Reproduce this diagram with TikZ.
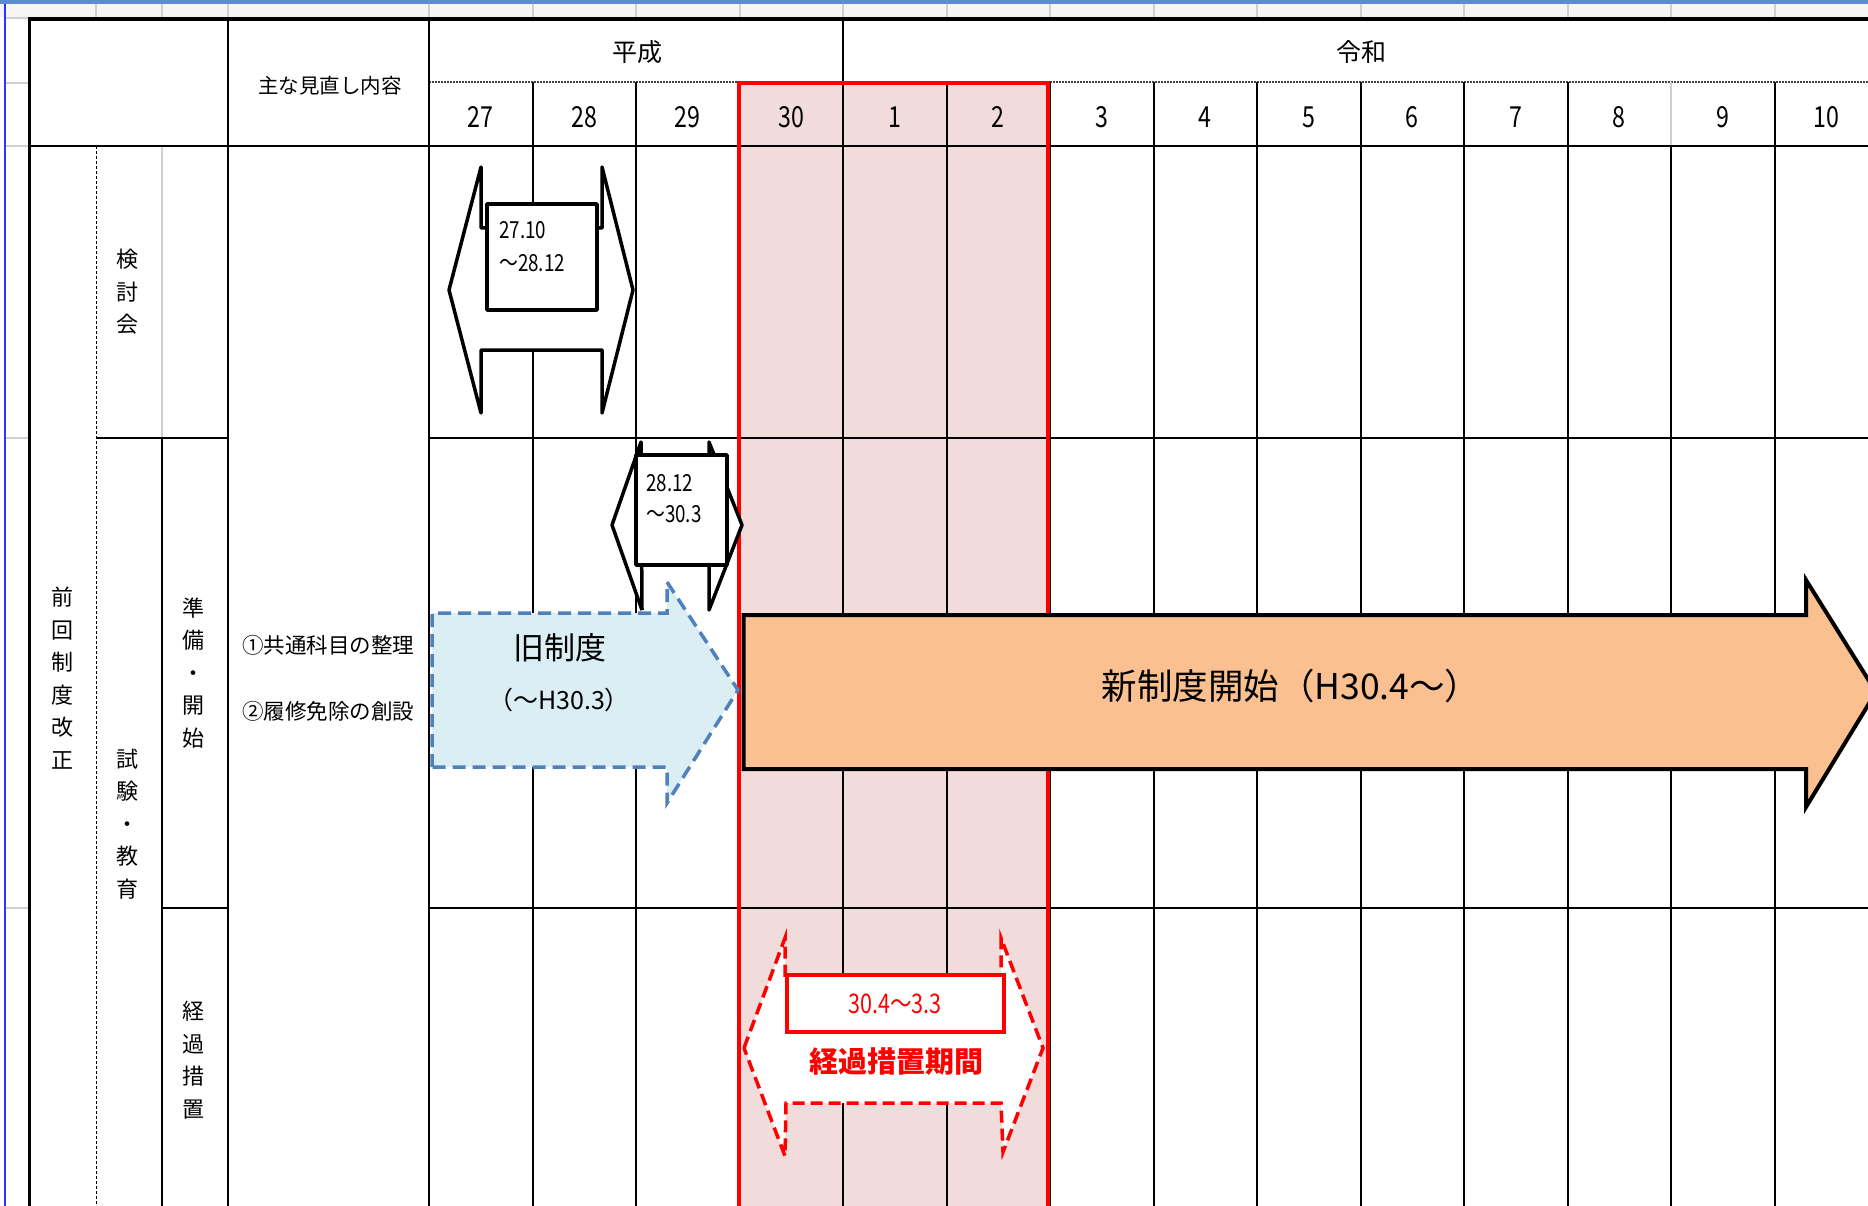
\documentclass[tikz,border=0pt]{standalone}
\usepackage{fontspec}
\setmainfont{Noto Sans CJK JP}
\usepackage{graphicx}
\definecolor{pinkbg}{HTML}{F2DCDB}
\definecolor{gridgray}{HTML}{D0D0D0}
\definecolor{topblue}{HTML}{5B8BD0}
\definecolor{oldfill}{HTML}{DAEEF3}
\definecolor{olddraw}{HTML}{4F81BD}
\definecolor{newfill}{HTML}{FAC090}
\definecolor{hired}{HTML}{FF0000}
\newcommand{\nr}[1]{\scalebox{0.8}[1]{#1}}
\tikzset{
  gline/.style={line width=2pt, black},
  grayline/.style={line width=2pt, gridgray},
  vtext/.style={align=center, inner sep=0pt, font=\fontsize{22}{32.6}\selectfont},
  lbl/.style={inner sep=0pt, font=\fontsize{21.5}{26}\selectfont},
  yrlbl/.style={inner sep=0pt, font=\fontsize{29}{32}\selectfont},
  boxtxt/.style={inner sep=0pt, anchor=west, font=\fontsize{23.5}{26}\selectfont},
  shapeline/.style={line width=3.5pt, line join=round},
}
\begin{document}
\begin{tikzpicture}[x=1pt,y=-1pt]
\useasboundingbox (0,0) rectangle (1868,1206);
\clip (0,0) rectangle (1868,1206);
\fill[white] (0,0) rectangle (1868,1206);
% spreadsheet surroundings
\fill[topblue] (0,0) rectangle (1868,4);
\fill[black!4] (0,4) rectangle (1868,17);
\foreach \gx in {96,162,228} {\draw[grayline] (\gx,4) -- (\gx,17);}
\foreach \k in {0,...,13} {\draw[grayline] ({429+103.5*\k},4) -- ({429+103.5*\k},17);}
\foreach \gy in {18,83,146,438,908} {\draw[grayline] (5,\gy) -- (28,\gy);}
\draw[line width=1.5pt, blue!80] (5,4) -- (5,1206);
% pink period
\fill[pinkbg] (739,83) rectangle (1048,1210);
% header grid
\draw[line width=1.5pt, black!75, dash pattern=on 1.5pt off 1.5pt] (429,82) -- (1868,82);
\draw[gline] (228,18) -- (228,1206);
\draw[gline] (429,18) -- (429,1206);
\draw[gline] (843,18) -- (843,1206);
\foreach \k in {1,2,3,5,6,7,8,9,10,11,13} {\draw[gline] ({429+103.5*\k},82) -- ({429+103.5*\k},1206);}
\draw[grayline] (1671,82) -- (1671,146);
\draw[gline] (1671,146) -- (1671,1206);
% body grid
\draw[line width=1pt, dash pattern=on 3pt off 2pt] (96,146) -- (96,1206);
\draw[grayline] (162,147) -- (162,437);
\draw[gline] (162,438) -- (162,1206);
\draw[line width=2.5pt] (30,146) -- (1868,146);
\draw[gline] (96,438) -- (228,438);
\draw[gline] (429,438) -- (1868,438);
\draw[gline] (162,908) -- (228,908);
\draw[gline] (429,908) -- (1868,908);
\draw[line width=4pt] (28,19) -- (1868,19);
\draw[line width=3pt] (29.5,17) -- (29.5,1206);
% red frame
\draw[hired, line width=4pt] (739,1210) -- (739,83.5) -- (1048,83.5) -- (1048,1210);
% header texts
\node[inner sep=0pt, font=\fontsize{25}{28}\selectfont] (heisei) at (637,52) {平成};
\node[inner sep=0pt, font=\fontsize{25}{28}\selectfont] (reiwa) at (1361,52) {令和};
\node[inner sep=0pt, font=\fontsize{20.5}{26}\selectfont] (naiyo) at (330,86) {主な見直し内容};
\foreach \i/\t in {0/27,1/28,2/29,3/30,4/1,5/2,6/3,7/4,8/5,9/6,10/7,11/8,12/9,13/10}
  {\node[yrlbl] (yr\i) at ({429+103.5*(\i+0.5)},117) {\nr{\t}};}
% row labels
\node[vtext] (zenkai) at (62,678) {前\\回\\制\\度\\改\\正};
\node[vtext] (kentokai) at (127,292) {検\\討\\会};
\node[vtext] (shiken) at (127,824) {試\\験\\・\\教\\育};
\node[vtext] (junbi) at (193,673) {準\\備\\・\\開\\始};
\node[vtext] (keika) at (193,1060) {経\\過\\措\\置};
\node[lbl] (item1) at (328,645) {①共通科目の整理};
\node[lbl] (item2) at (328,711) {②履修免除の創設};
% callout 1 (27.10 - 28.12)
\draw[shapeline, fill=white] (449,290) -- (481,167) -- (481,228) -- (602,228) -- (602,167) -- (633,290) -- (602,413) -- (602,350) -- (481,350) -- (481,413) -- cycle;
\draw[shapeline, fill=white] (487,204) rectangle (597,310);
\node[boxtxt] (c1a) at (499,230) {\nr{27.10}};
\node[boxtxt] (c1b) at (499,263) {\nr{～28.12}};
% callout 2 (28.12 - 30.3)
\fill[white] (612,525) -- (641,442) -- (641,455) -- (709,455) -- (709,442) -- (742,525) -- (709,610) -- (642,610) -- cycle;
\draw[shapeline] (642,610) -- (612,525) -- (641,442) -- (641,455) -- (709,455) -- (709,442) -- (742,525) -- (709,610) -- (709,455);
\draw[shapeline] (641,455) -- (642,610);
\draw[shapeline, fill=white] (636,455) rectangle (727,565);
\node[boxtxt] (c2a) at (646,483) {\nr{28.12}};
\node[boxtxt] (c2b) at (646,514) {\nr{～30.3}};
% old system arrow
\draw[line width=3.5pt, olddraw, fill=oldfill, dash pattern=on 13pt off 7pt] (432,767) -- (432,613) -- (667,613) -- (667,582) -- (738,690) -- (667,803) -- (667,767) -- cycle;
\node[inner sep=0pt, font=\fontsize{31}{34}\selectfont] (kyu) at (560,648) {旧制度};
\node[inner sep=0pt, font=\fontsize{25}{28}\selectfont] (kyu2) at (559,700) {（～H30.3）};
% new system arrow
\draw[line width=4pt, line join=miter, fill=newfill] (743.5,615) -- (1806,615) -- (1806,580) -- (1876,692) -- (1806,807) -- (1806,769) -- (743.5,769) -- cycle;
\node[inner sep=0pt, font=\fontsize{35.5}{38}\selectfont] (shin) at (1291,686) {新制度開始（H30.4～）};
% transitional period callout
\draw[hired, line width=3.5pt, fill=white, dash pattern=on 12pt off 6pt] (744,1048) -- (785,938) -- (785,975) -- (1001,975) -- (1001,938) -- (1043,1048) -- (1003,1152) -- (1001,1103) -- (786,1103) -- (785,1156) -- cycle;
\draw[hired, line width=3.5pt, fill=white] (787,975) rectangle (1004,1032);
\node[inner sep=0pt, text=hired, font=\fontsize{27}{30}\selectfont] (period) at (895,1004) {\nr{30.4～3.3}};
\node[inner sep=0pt, text=hired, font=\bfseries\fontsize{29}{32}\selectfont] (keikalbl) at (896,1062) {経過措置期間};
\end{tikzpicture}
\end{document}
